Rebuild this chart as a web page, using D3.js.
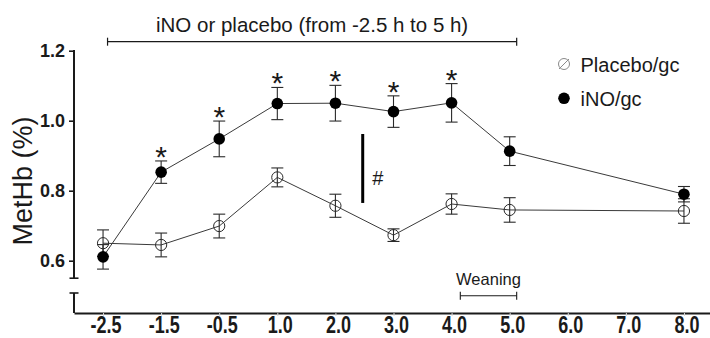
<!DOCTYPE html>
<html>
<head>
<meta charset="utf-8">
<script src="https://cdn.jsdelivr.net/npm/d3@7"></script>
<style>
  html, body { margin: 0; padding: 0; background: #fff; }
  svg { display: block; font-family: Arial, "Liberation Sans", sans-serif; }
</style>
</head>
<body>
<svg id="chart" width="710" height="338"></svg>
<script>
// Sampling times (h) shown on the x axis
const xLabels = ["-2.5", "-1.5", "-0.5", "1.0", "2.0", "3.0", "4.0", "5.0", "6.0", "7.0", "8.0"];
// Times at which MetHb was measured
const timePoints = ["-2.5", "-1.5", "-0.5", "1.0", "2.0", "3.0", "4.0", "5.0", "8.0"];

// Placebo/gc group: mean and SEM of MetHb (%)
const placeboMean = [0.650, 0.645, 0.699, 0.838, 0.757, 0.673, 0.762, 0.745, 0.742];
const placeboSE   = [0.038, 0.034, 0.034, 0.027, 0.033, 0.018, 0.029, 0.035, 0.035];

// iNO/gc group: mean and SEM of MetHb (%)
const inoMean = [0.611, 0.853, 0.948, 1.049, 1.050, 1.026, 1.051, 0.913, 0.790];
const inoSE   = [0.035, 0.032, 0.051, 0.046, 0.051, 0.045, 0.055, 0.041, 0.022];

// Time points where iNO differs from placebo (*)
const significant = [false, true, true, true, true, true, true, false, false];

const yTicks = [0.6, 0.8, 1.0, 1.2];

const svg = d3.select("#chart");
const W = 710, H = 338;
svg.append("rect").attr("width", W).attr("height", H).attr("fill", "#fff");

const axisX = 74;       // x of the y axis
const axisY = 313;      // y of the x axis

const x = d3.scalePoint().domain(xLabels).range([axisX, 713]).padding(0.5);
const y = d3.scaleLinear().domain([0.6, 1.2]).range([260.7, 50.7]);
const step = x.step();

const ink = "#1a1a1a";

// ---- y axis (broken) ----
const yAxis = svg.append("g").attr("transform", `translate(${axisX},0)`)
  .call(d3.axisLeft(y).tickValues(yTicks).tickFormat(d3.format(".1f")).tickSize(5).tickPadding(4).tickSizeOuter(0));
yAxis.select(".domain").remove();
yAxis.selectAll(".tick line").attr("stroke", ink).attr("stroke-width", 1.6);
yAxis.selectAll(".tick text")
  .attr("font-size", 18).attr("font-weight", "bold").attr("fill", ink)
  .attr("font-family", "Arial, 'Liberation Sans', sans-serif");

const yBreakValue = 0.55;
const lowerSegTop = 293;
svg.append("line").attr("x1", axisX).attr("x2", axisX)
  .attr("y1", y(1.2) - 0.8).attr("y2", y(yBreakValue))
  .attr("stroke", ink).attr("stroke-width", 2);
svg.append("line").attr("x1", axisX - 4.5).attr("x2", axisX + 4.5)
  .attr("y1", y(yBreakValue)).attr("y2", y(yBreakValue))
  .attr("stroke", ink).attr("stroke-width", 1.6);
svg.append("line").attr("x1", axisX).attr("x2", axisX)
  .attr("y1", lowerSegTop).attr("y2", axisY)
  .attr("stroke", ink).attr("stroke-width", 2);
svg.append("line").attr("x1", axisX - 4.5).attr("x2", axisX + 4.5)
  .attr("y1", lowerSegTop).attr("y2", lowerSegTop)
  .attr("stroke", ink).attr("stroke-width", 1.6);

// ---- x axis ----
const xAxis = svg.append("g").attr("transform", `translate(0,${axisY})`)
  .call(d3.axisBottom(x).tickSize(3).tickSizeOuter(0).tickFormat(""));
xAxis.select(".domain").attr("stroke", ink).attr("stroke-width", 2);
xAxis.selectAll(".tick line").attr("stroke", "#d8d8d8").attr("stroke-width", 1);

svg.append("g").selectAll("text").data(xLabels).join("text")
  .attr("transform", d => `translate(${x(d) + 3},333) scale(1,1.3)`)
  .attr("text-anchor", "middle")
  .attr("font-size", 18).attr("font-weight", "bold").attr("fill", ink)
  .text(d => d);

// ---- y axis title ----
svg.append("text")
  .attr("transform", `translate(32,181) rotate(-90)`)
  .attr("text-anchor", "middle")
  .attr("font-size", 27).attr("fill", ink)
  .text("MetHb (%)");

// ---- series ----
function seriesData(means, ses) {
  return timePoints.map((t, i) => ({ t, m: means[i], se: ses[i], sig: significant[i] }));
}
const placebo = seriesData(placeboMean, placeboSE);
const ino = seriesData(inoMean, inoSE);

const line = d3.line().x(d => x(d.t)).y(d => y(d.m));
const lineColor = "#3a3a3a";

[placebo, ino].forEach(s => {
  svg.append("path").datum(s).attr("d", line)
    .attr("fill", "none").attr("stroke", lineColor).attr("stroke-width", 1);
});

function errorBars(s) {
  const g = svg.append("g").attr("stroke", "#2a2a2a").attr("stroke-width", 1.1).attr("fill", "none");
  s.forEach(d => {
    const cx = x(d.t), yt = y(d.m + d.se), yb = y(d.m - d.se);
    g.append("line").attr("x1", cx).attr("x2", cx).attr("y1", yt).attr("y2", yb);
    g.append("line").attr("x1", cx - 6).attr("x2", cx + 6).attr("y1", yt).attr("y2", yt);
    g.append("line").attr("x1", cx - 6).attr("x2", cx + 6).attr("y1", yb).attr("y2", yb);
  });
}
errorBars(placebo);
errorBars(ino);

svg.append("g").selectAll("circle").data(placebo).join("circle")
  .attr("cx", d => x(d.t)).attr("cy", d => y(d.m)).attr("r", 5.6)
  .attr("fill", "none").attr("stroke", "#2a2a2a").attr("stroke-width", 1);

svg.append("g").selectAll("circle").data(ino).join("circle")
  .attr("cx", d => x(d.t)).attr("cy", d => y(d.m)).attr("r", 5.8)
  .attr("fill", "#000");

// significance asterisks above iNO error bars
svg.append("g").selectAll("text").data(ino.filter(d => d.sig)).join("text")
  .attr("x", d => x(d.t)).attr("y", d => y(d.m + d.se) + 6)
  .attr("text-anchor", "middle").attr("font-size", 30).attr("fill", ink)
  .text("*");

// group difference marker (#)
const markX = x("2.0") + step * 0.47;
svg.append("line").attr("x1", markX).attr("x2", markX)
  .attr("y1", y(0.962)).attr("y2", y(0.765))
  .attr("stroke", "#000").attr("stroke-width", 3);
svg.append("text").attr("x", x("2.0") + step * 0.73).attr("y", y(0.836) + 7)
  .attr("text-anchor", "middle").attr("font-size", 20).attr("fill", ink).text("#");

// ---- treatment period bracket ----
const brY = 41.7;
const brX1 = x("-2.5") + 4.5, brX2 = x("5.0") + 7;
const br = svg.append("g").attr("stroke", ink).attr("stroke-width", 1.2);
br.append("line").attr("x1", brX1).attr("x2", brX2).attr("y1", brY).attr("y2", brY);
br.append("line").attr("x1", brX1).attr("x2", brX1).attr("y1", brY - 4).attr("y2", brY + 4);
br.append("line").attr("x1", brX2).attr("x2", brX2).attr("y1", brY - 4).attr("y2", brY + 4);
svg.append("text").attr("x", (brX1 + brX2) / 2).attr("y", 31.5)
  .attr("text-anchor", "middle").attr("font-size", 20.5).attr("fill", ink)
  .text("iNO or placebo (from -2.5 h to 5 h)");

// ---- weaning bracket ----
const wY = 295.7;
const wX1 = x("4.0") + step * 0.15, wX2 = x("5.0") + 7;
const wb = svg.append("g").attr("stroke", ink).attr("stroke-width", 1.1);
wb.append("line").attr("x1", wX1).attr("x2", wX2).attr("y1", wY).attr("y2", wY);
wb.append("line").attr("x1", wX1).attr("x2", wX1).attr("y1", wY - 4).attr("y2", wY + 4);
wb.append("line").attr("x1", wX2).attr("x2", wX2).attr("y1", wY - 4).attr("y2", wY + 4);
svg.append("text").attr("x", (wX1 + wX2) / 2).attr("y", 285)
  .attr("text-anchor", "middle").attr("font-size", 16.5).attr("fill", ink)
  .text("Weaning");

// ---- legend ----
const legend = svg.append("g").attr("transform", "translate(564,64)");
legend.append("circle").attr("r", 5.5).attr("fill", "none").attr("stroke", "#8a8a8a").attr("stroke-width", 1);
legend.append("line").attr("x1", -5).attr("y1", 5).attr("x2", 5).attr("y2", -5)
  .attr("stroke", "#8a8a8a").attr("stroke-width", 1);
legend.append("text").attr("x", 16.5).attr("y", 7.5).attr("font-size", 20).attr("fill", ink).text("Placebo/gc");
legend.append("circle").attr("cy", 34.3).attr("r", 5.8).attr("fill", "#000");
legend.append("text").attr("x", 16.5).attr("y", 41.5).attr("font-size", 20).attr("fill", ink).text("iNO/gc");
</script>
</body>
</html>
